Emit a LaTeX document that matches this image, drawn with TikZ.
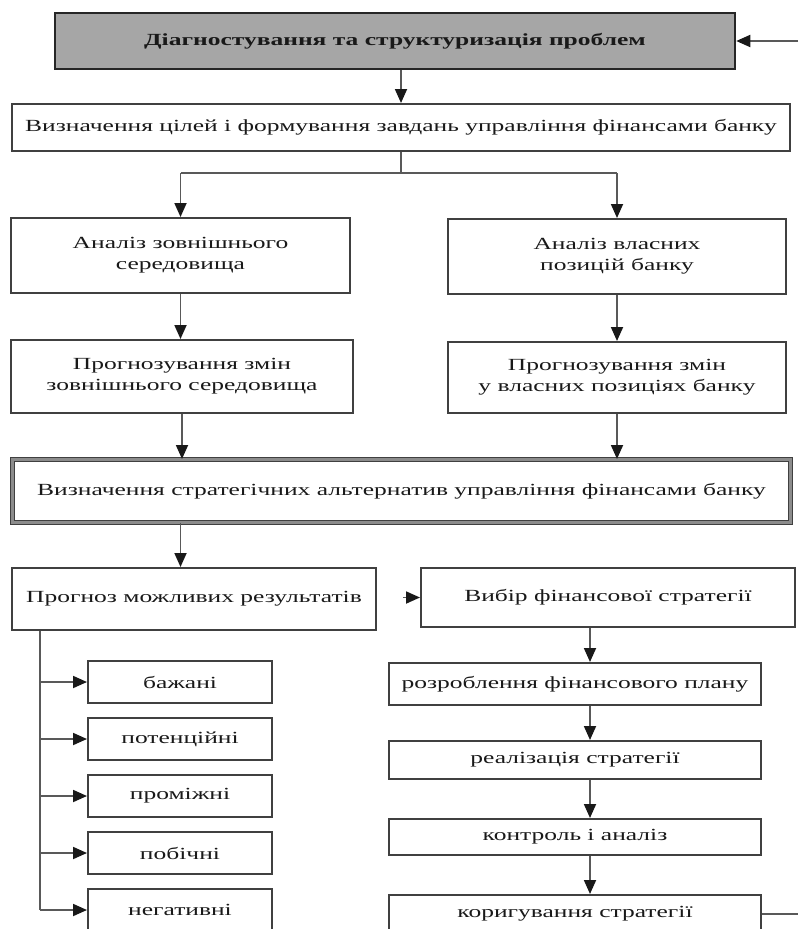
\documentclass[tikz,border=0pt]{standalone}
\usepackage{fontspec}
\setmainfont{Liberation Serif}
\newfontfamily\widefont[FakeStretch=1.5]{Liberation Serif}
\usetikzlibrary{arrows.meta}

\begin{document}
\begin{tikzpicture}%
	[x=1pt, y=-1pt,
	box/.style={draw=black!75, line width=2pt, fill=white, inner sep=0pt, align=center,
		text=black!90, font=\widefont\fontsize{17}{21}\selectfont},
	main/.style={box, fill=black!35, draw=black!85, line width=2.5pt,
		font=\widefont\bfseries\fontsize{17}{21}\selectfont},
	frame/.style={box, draw=black!75, line width=1pt, double=black!45, double distance=3pt},
	link/.style={draw=black!65, line width=1.8pt},
	arrow/.style={link, -{Triangle[length=14pt,width=12pt,color=black!90]}}]
%
\useasboundingbox (0,0) rectangle (798,929);
\clip (0,0) rectangle (798,929);
%
%% Helper coordinates
%%
\coordinate (loopin) at (798,41);
\coordinate (loopout) at (798,912);
\coordinate (lvl) at (0,173);
\coordinate (rcol) at (590,0);
\coordinate (trunk) at (40,0);
%%
%%
%% Upper part
%%
\node[main, minimum width=680pt, minimum height=56pt] (diag) at (395,41)
	{Діагностування та структуризація проблем};
\node[box, minimum width=778pt, minimum height=47pt] (goals) at (401,127.5)
	{Визначення цілей і формування завдань управління фінансами банку};
\node[box, minimum width=339pt, minimum height=75pt] (extan) at (180.5,255.5)
	{Аналіз зовнішнього\\середовища};
\node[box, minimum width=338pt, minimum height=75pt] (ownan) at (617,256.5)
	{Аналіз власних\\позицій банку};
\node[box, minimum width=342pt, minimum height=73pt] (extfc) at (182,376.5)
	{Прогнозування змін\\зовнішнього середовища};
\node[box, minimum width=338pt, minimum height=71pt] (ownfc) at (617,377.5)
	{Прогнозування змін\\у власних позиціях банку};
\node[frame, minimum width=778pt, minimum height=63pt] (alts) at (401.5,491)
	{Визначення стратегічних альтернатив управління фінансами банку};
%%
%%
%% Lower part
%%
\node[box, minimum width=364pt, minimum height=62pt] (results) at (194,599)
	{Прогноз можливих результатів};
\node[box, minimum width=374pt, minimum height=59pt] (choice) at (608,597.5)
	{Вибір фінансової стратегії};
\node[box, minimum width=372pt, minimum height=42pt] (plan) at (575,684)
	{розроблення фінансового плану};
\node[box, minimum width=372pt, minimum height=38pt] (impl) at (575,760)
	{реалізація стратегії};
\node[box, minimum width=372pt, minimum height=36pt] (control) at (575,837)
	{контроль і аналіз};
\node[box, minimum width=372pt, minimum height=38pt] (adjust) at (575,914)
	{коригування стратегії};
\foreach \name/\txt/\y in {want/бажані/682, pot/потенційні/739, mid/проміжні/796,
		side/побічні/853, neg/негативні/910}
	\node[box, minimum width=184pt, minimum height=42pt] (\name) at (180,\y) {\txt};
%%
%%
%% Connectors
%%
\draw[arrow] (loopin) -- (diag.east);
\draw[arrow] (goals.north |- diag.south) -- (goals.north);
\draw[link] (goals.south) -- (goals.south |- lvl)
	(extan.north |- lvl) -- (ownan.north |- lvl);
\draw[arrow] (extan.north |- lvl) -- (extan.north);
\draw[arrow] (ownan.north |- lvl) -- (ownan.north);
\draw[arrow] (extan.south) -- (extan.south |- extfc.north);
\draw[arrow] (ownan.south) -- (ownfc.north);
\draw[arrow] (extfc.south) -- (extfc.south |- alts.north);
\draw[arrow] (ownfc.south) -- (ownfc.south |- alts.north);
\draw[arrow] (alts.south -| extan.south) -- (results.north -| extan.south);
\draw[arrow, shorten <=26pt] (results.east |- choice.west) -- (choice.west);
\draw[arrow] (rcol |- choice.south) -- (rcol |- plan.north);
\draw[arrow] (rcol |- plan.south) -- (rcol |- impl.north);
\draw[arrow] (rcol |- impl.south) -- (rcol |- control.north);
\draw[arrow] (rcol |- control.south) -- (rcol |- adjust.north);
\draw[link] (adjust.east) -- (adjust.east -| loopout);
\draw[link] (results.south -| trunk) -- (trunk |- neg);
\foreach \name in {want, pot, mid, side, neg}
	\draw[arrow] (trunk |- \name) -- (\name.west);
%%
\end{tikzpicture}
\end{document}
